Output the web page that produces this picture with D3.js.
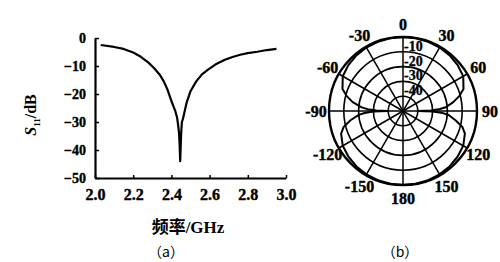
<!DOCTYPE html>
<html>
<head>
<script src='https://d3js.org/d3.v7.min.js'></script>
<style>
body {margin:0; background:#fff;}
svg {display:block;}
</style>
</head>
<body>
<svg width=500 height=262></svg>

<script>
// (a) return loss curve
var freq = [2.03,2.10,2.15,2.20,2.24,2.28,2.31,2.34,2.36,2.38,2.40,2.42,2.43,2.435,2.44,2.443,2.446,2.448,2.450,2.452,2.455,2.46,2.465,2.47,2.48,2.49,2.50,2.53,2.56,2.59,2.63,2.68,2.72,2.76,2.80,2.85,2.90,2.95]
var s11 = [-2.5,-3.2,-3.9,-5.2,-6.7,-8.8,-10.8,-13.2,-15.5,-18.5,-22.5,-26,-28.5,-31,-34,-38,-44,-40,-36,-33,-30,-29,-27.5,-26,-23,-21,-19,-15.5,-13,-11.4,-9.5,-7.8,-6.8,-6,-5.4,-4.9,-4.3,-3.9]
var xTicks = [2.0,2.2,2.4,2.6,2.8,3.0]
var yTicks = [0,-10,-20,-30,-40,-50]

// (b) radiation pattern, degrees from 0 (top) clockwise, gain in dB
var angles = [-180,-170,-160,-150,-140,-130,-120,-110,-105,-100,-95,-93,-91,-90,-89,-87,-85,-80,-75,-70,-60,-50,-40,-30,-20,-10,0,10,20,30,40,50,60,70,75,80,85,87,89,90,91,93,95,100,105,110,120,130,140,150,160,170,180]
var gain = [0,-0.1,-0.3,-0.6,-1.1,-1.9,-3.0,-5.5,-8.5,-14,-20,-24,-30,-40,-32,-26,-22,-15.5,-10.5,-6.5,-3.0,-1.8,-1.0,-0.5,-0.2,-0.1,0,-0.1,-0.2,-0.5,-1.0,-1.8,-3.0,-6.5,-10.5,-15.5,-21,-25,-31,-40,-30,-23,-19,-14,-8.5,-5.5,-3.0,-1.9,-1.1,-0.6,-0.3,-0.1,0]
var angleTicks = [0,30,60,90,120,150,180,-150,-120,-90,-60,-30]
var ringTicks = [0,-10,-20,-30,-40]

var serif = '"Liberation Serif", "Times New Roman", serif'
var cjk = '"Noto Sans CJK SC", sans-serif'

var svg = d3.select('svg')

///////////// (a) /////////////
var x = d3.scaleLinear().domain([2.0,3.0]).range([95,286])
var y = d3.scaleLinear().domain([-50,0]).range([178,38])

var gx = svg.append('g')
   .attr('transform','translate(0,178)')
   .call(d3.axisBottom(x).tickValues(xTicks).tickFormat(d3.format('.1f')).tickSizeInner(-3).tickSizeOuter(0).tickPadding(11))
var gy = svg.append('g')
   .attr('transform','translate(95,0)')
   .call(d3.axisLeft(y).tickValues(yTicks).tickSizeInner(-4).tickSizeOuter(0).tickPadding(9))

svg.selectAll('.domain').attr('stroke-width',2.2)
svg.selectAll('.tick line').attr('stroke-width',1.5)
gx.selectAll('text')
   .attr('font-family',serif).attr('font-size',16).attr('font-weight','bold')
   .attr('fill','#000').attr('stroke','#000').attr('stroke-width',0.4)
gy.selectAll('text')
   .attr('font-family',serif).attr('font-size',14).attr('font-weight','bold')
   .attr('fill','#000').attr('stroke','#000').attr('stroke-width',0.4)

var line = d3.line().x(function(d,i){return x(freq[i]);}).y(function(d){return y(d);})
svg.append('path')
   .attr('d',line(s11))
   .attr('fill','none')
   .attr('stroke','#000')
   .attr('stroke-width',2.2)
   .attr('stroke-linejoin','round')

// y axis label
var ylab = svg.append('text')
   .attr('transform','translate(36,115) rotate(-90)')
   .attr('text-anchor','middle')
   .attr('font-family',serif)
   .attr('font-size',16)
   .attr('font-weight','bold')
ylab.append('tspan').attr('font-style','italic').text('S')
ylab.append('tspan').attr('dy',4).attr('font-size',9).text('11')
ylab.append('tspan').attr('dy',-4).text('/dB')

// x axis label
var xlab = svg.append('text')
   .attr('x',188).attr('y',233)
   .attr('text-anchor','middle')
   .attr('font-family',serif)
   .attr('font-size',17)
   .attr('font-weight','bold')
xlab.append('tspan').attr('font-family',cjk).text('频率')
xlab.append('tspan').text('/GHz')

svg.append('text')
   .attr('x',166).attr('y',257)
   .attr('text-anchor','middle')
   .attr('font-family',cjk)
   .attr('font-size',14)
   .text('（a）')

///////////// (b) /////////////
var cx = 403, cy = 111, R = 74
var r = d3.scaleLinear().domain([-50,0]).range([0,R]).clamp(true)
var polar = svg.append('g').attr('transform','translate('+cx+','+cy+')')

polar.selectAll('.spoke')
   .data(angleTicks)
   .enter()
   .append('line')
     .attr('x1',0).attr('y1',0)
     .attr('x2',function(d){return R*Math.sin(d*Math.PI/180);})
     .attr('y2',function(d){return -R*Math.cos(d*Math.PI/180);})
     .attr('stroke','#000')
     .attr('stroke-width',1.5)

polar.selectAll('circle')
   .data(ringTicks)
   .enter()
   .append('circle')
     .attr('r',function(d){return r(d);})
     .attr('fill','none')
     .attr('stroke','#000')
     .attr('stroke-width',function(d){return d==0 ? 2.4 : 1.6;})

var radial = d3.lineRadial()
   .angle(function(d,i){return angles[i]*Math.PI/180;})
   .radius(function(d){return r(d);})
polar.append('path')
   .attr('d',radial(gain))
   .attr('fill','none')
   .attr('stroke','#000')
   .attr('stroke-width',2)
   .attr('stroke-linejoin','round')

polar.selectAll('.ang')
   .data(angleTicks)
   .enter()
   .append('text')
     .attr('x',function(d){return (R+13)*Math.sin(d*Math.PI/180);})
     .attr('y',function(d){return -(R+13)*Math.cos(d*Math.PI/180);})
     .attr('text-anchor','middle')
     .attr('dy','0.35em')
     .attr('font-family',serif)
     .attr('font-size',16)
     .attr('font-weight','bold')
     .attr('stroke','#000').attr('stroke-width',0.4)
     .text(function(d){return d;})

polar.selectAll('.ring')
   .data(ringTicks.slice(1))
   .enter()
   .append('text')
     .attr('x',1)
     .attr('y',function(d){return -r(d)-1;})
     .attr('font-family',serif)
     .attr('font-size',14)
     .attr('font-weight','bold')
     .attr('stroke','#000').attr('stroke-width',0.3)
     .text(function(d){return d;})

svg.append('text')
   .attr('x',400).attr('y',257)
   .attr('text-anchor','middle')
   .attr('font-family',cjk)
   .attr('font-size',14)
   .text('（b）')
</script>
</body>
</html>
